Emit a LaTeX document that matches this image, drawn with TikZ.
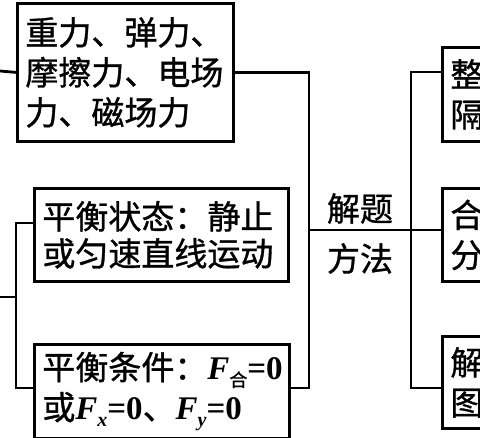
\documentclass[tikz,border=0pt]{standalone}
\usepackage{fontspec}
\setmainfont{Liberation Serif}
\newfontfamily\cjk[FakeBold=1]{Noto Sans CJK SC}
\usetikzlibrary{positioning}
\tikzset{
  box/.style={draw, line width=2.8pt, anchor=north west, inner xsep=8pt, inner ysep=0pt, align=left},
  link/.style={line width=2.8pt},
  big/.style={font=\cjk\fontsize{33}{40}\selectfont},
}
\newcommand{\Fv}{{\rmfamily\bfseries\itshape F}}
\newcommand{\Zero}{{\rmfamily\bfseries =0}}
\newcommand{\Sub}[1]{\raisebox{-7pt}{\rmfamily\bfseries\itshape\fontsize{20}{20}\selectfont #1}}

\begin{document}
\begin{tikzpicture}[x=1pt, y=-1pt]
\useasboundingbox (0,0) rectangle (480,438);
% boxes on the left
\node [box, big, minimum width=216pt, minimum height=138pt, text width=200pt] (force) at (16,2) {重力、弹力、\\摩擦力、电场\\力、磁场力};
\node [box, font=\cjk\fontsize{33}{37}\selectfont, minimum width=254pt, minimum height=93pt, text width=238pt] (state) at (33,187) {平衡状态：静止\\或匀速直线运动};
\node [box, big, minimum width=255pt, minimum height=94pt, text width=239pt] (cond) at (33,343) {平衡条件：\Fv\raisebox{-7pt}{\fontsize{18}{18}\selectfont 合}\Zero\\或\Fv\Sub{x}\Zero、\Fv\Sub{y}\Zero};
% boxes on the right, cut by the page edge
\node [box, big, minimum width=120pt, minimum height=94pt, text width=104pt] (whole) at (441,46) {整\\隔};
\node [box, big, minimum width=120pt, minimum height=93pt, text width=104pt] (comp) at (441,187) {合\\分};
\node [box, big, minimum width=120pt, minimum height=92pt, text width=104pt] (graph) at (441,335) {解\\图};

\coordinate (l0) at (0,71);
\coordinate (l1) at (0,297);
\coordinate (l2) at (16,297);
\coordinate (l3) at (16,223);
\coordinate (l4) at (16,388);
\coordinate (r2) at (309,388);
\coordinate (r3) at (309,230);
\coordinate (s1) at (411,72);
\coordinate (s2) at (411,230);
\coordinate (s3) at (411,388);
\coordinate (m) at (360,230);

\node [above=6pt of m, inner sep=0pt, big] (meth1) {解题};
\node [below=13pt of m, inner sep=0pt, big] (meth2) {方法};

\draw [link] (l0) -- (force.west);
\draw [link] (l1) -- (l2);
\draw [link] (l3 -| state.west) -- (l3) -- (l4) -- (l4 -| cond.west);
\draw [link] (force.east) -| (r2) -- (r2 -| cond.east);
\draw [link] (r3) -- (s2);
\draw [link] (s1 -| whole.west) -- (s1) -- (s3) -- (s3 -| graph.west);
\draw [link] (s2) -- (s2 -| comp.west);
\end{tikzpicture}
\end{document}
